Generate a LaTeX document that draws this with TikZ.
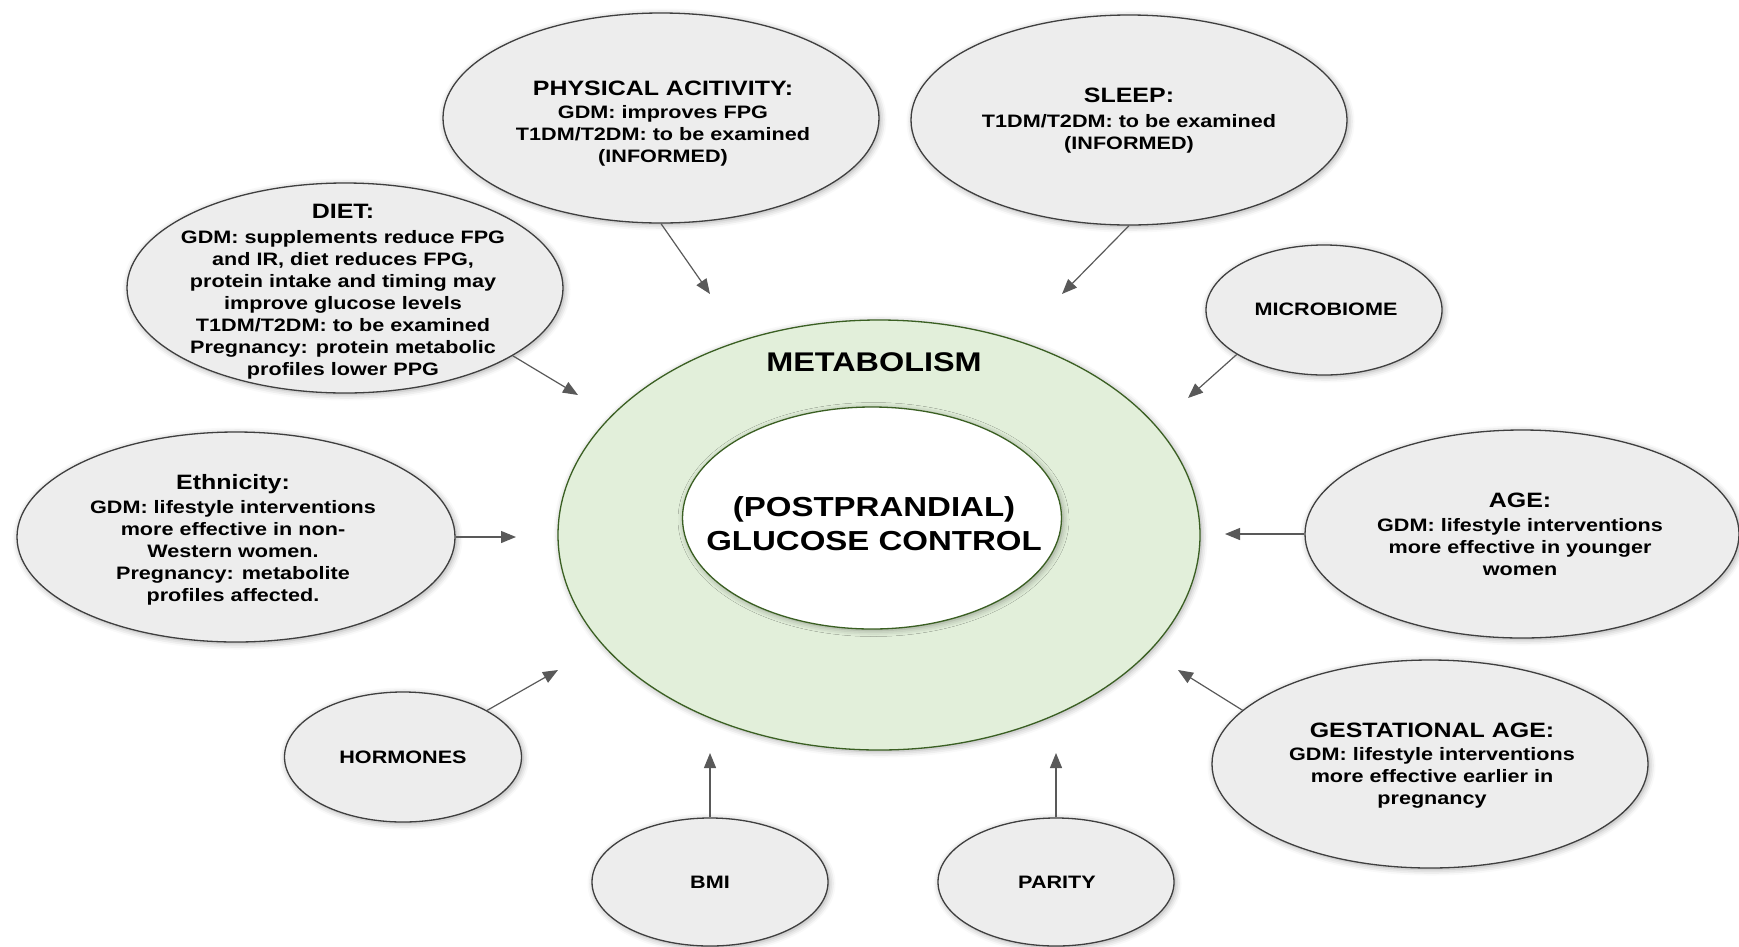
\documentclass[tikz,border=0pt]{standalone}
\usepackage{fontspec}
\setmainfont{Liberation Sans}[FakeStretch=1.2]
\usetikzlibrary{shapes.geometric,arrows.meta,shadows.blur}
\definecolor{bub}{HTML}{EDEDED}
\definecolor{bubline}{HTML}{3F3F3F}
\definecolor{metfill}{HTML}{E2EFDA}
\definecolor{metline}{HTML}{3A5F22}
\definecolor{arrcol}{HTML}{595959}
\begin{document}
\begin{tikzpicture}[x=1pt,y=-1pt,
  soft/.style={blur shadow={shadow xshift=1.5pt, shadow yshift=-1.5pt, shadow blur radius=6pt, shadow opacity=35}},
  bubble/.style={ellipse, draw=bubline, line width=1.3pt, fill=bub, inner sep=0pt, soft},
  ring/.style={ellipse, draw=metline, line width=1.3pt, inner sep=0pt, soft},
  txt/.style={align=center, inner sep=0pt, font=\bfseries\fontsize{18}{22}\selectfont},
  head/.style={font=\bfseries\fontsize{20.8}{25}\selectfont},
  arr/.style={draw=arrcol, line width=1.2pt, -{Triangle[length=15pt,width=12pt]}}]
\useasboundingbox (0,0) rectangle (1739,946);

% central ellipses
\node[ring, fill=metfill, minimum width=642pt, minimum height=430pt] (met) at (879,535) {};
\node[ring, fill=white, minimum width=379pt, minimum height=222pt] (core) at (872,518) {};
\node[txt, font=\bfseries\fontsize{27}{34}\selectfont] (mett) at (874,362) {METABOLISM};
\node[txt, font=\bfseries\fontsize{27.5}{34}\selectfont] (coret) at (874,524) {(POSTPRANDIAL)\\GLUCOSE CONTROL};

% surrounding bubbles
\node[bubble, minimum width=436pt, minimum height=210pt] (pa) at (661,118) {};
\node[bubble, minimum width=436pt, minimum height=210pt] (sl) at (1129,120) {};
\node[bubble, minimum width=436pt, minimum height=210pt] (diet) at (345,288) {};
\node[bubble, minimum width=438pt, minimum height=210pt] (eth) at (236,537) {};
\node[bubble, minimum width=434pt, minimum height=208pt] (age) at (1522,534) {};
\node[bubble, minimum width=436pt, minimum height=208pt] (gest) at (1430,764) {};
\node[bubble, minimum width=236pt, minimum height=130pt] (mic) at (1324,310) {};
\node[bubble, minimum width=237pt, minimum height=130pt] (horm) at (403,757) {};
\node[bubble, minimum width=236pt, minimum height=128pt] (bmi) at (710,882) {};
\node[bubble, minimum width=236pt, minimum height=128pt] (par) at (1056,882) {};

% texts
\node[txt] (pat) at (663,124) {{\fontsize{20.8}{25}\selectfont PHYSICAL ACITIVITY:}\\[1pt]
  GDM: improves FPG\\ T1DM/T2DM: to be examined\\ (INFORMED)};
\node[txt] (slt) at (1129,121) {{\fontsize{20.8}{25}\selectfont SLEEP:}\\[3pt]
  T1DM/T2DM: to be examined\\ (INFORMED)};
\node[txt] (dietc) at (343,292) {{\fontsize{20.8}{25}\selectfont DIET:}\\[3pt]
  GDM: supplements reduce FPG\\ and IR, diet reduces FPG,\\ protein intake and timing may\\
  improve glucose levels\\ T1DM/T2DM: to be examined\\ Pregnancy: protein metabolic\\ profiles lower PPG};
\node[txt] (etht) at (233,540) {{\fontsize{20.8}{25}\selectfont Ethnicity:}\\[2pt]
  GDM: lifestyle interventions\\ more effective in non-\\ Western women.\\
  Pregnancy: metabolite\\ profiles affected.};
\node[txt] (aget) at (1520,534) {{\fontsize{20.8}{25}\selectfont AGE:}\\[2pt]
  GDM: lifestyle interventions\\ more effective in younger\\ women};
\node[txt] (gestt) at (1432,766) {{\fontsize{20.8}{25}\selectfont GESTATIONAL AGE:}\\[1pt]
  GDM: lifestyle interventions\\ more effective earlier in\\ pregnancy};
\node[txt] (mict) at (1326,309) {MICROBIOME};
\node[txt] (hormt) at (403,757) {HORMONES};
\node[txt] (bmit) at (710,882) {BMI};
\node[txt] (part) at (1057,882) {PARITY};

% arrow end points
\coordinate (paE) at (710,294);
\coordinate (slE) at (1062,294);
\coordinate (dietE) at (578,395);
\coordinate (micE) at (1188,398);
\coordinate (ethE) at (516,537);
\coordinate (ageE) at (1225,534);
\coordinate (hormE) at (558,670);
\coordinate (gestE) at (1178,670);
\coordinate (bmiE) at (710,753);
\coordinate (parE) at (1056,753);

\draw[arr] (pa.south) -- (paE);
\draw[arr] (sl.south) -- (slE);
\draw[arr] (diet.-22) -- (dietE);
\draw[arr] (mic.-153) -- (micE);
\draw[arr] (eth.east) -- (ethE);
\draw[arr] (age.west) -- (ageE);
\draw[arr] (horm.29) -- (hormE);
\draw[arr] (gest.164) -- (gestE);
\draw[arr] (bmi.north) -- (bmiE);
\draw[arr] (par.north) -- (parE);
\end{tikzpicture}
\end{document}
